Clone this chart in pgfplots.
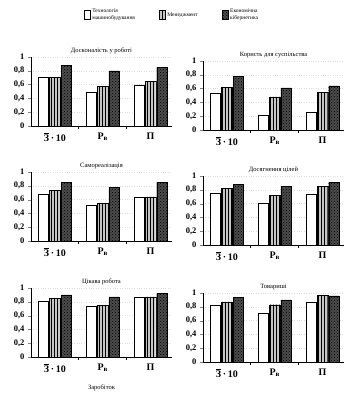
\documentclass[border=0pt]{standalone}
\usepackage{fontspec}
\setmainfont{Liberation Serif}
\usepackage{pgfplots}
\pgfplotsset{compat=1.18}
\usetikzlibrary{patterns}

\pgfplotsset{
 s1/.style={fill=white, draw=black},
 s2/.style={fill=gray!45, draw=black, postaction={pattern=vertical lines, pattern color=black}},
 s3/.style={fill=black!70, draw=black, postaction={pattern=crosshatch dots, pattern color=black}},
 panel/.style={
  scale only axis, width=141pt, height=69pt,
  anchor=south west,
  ymin=0, ymax=1, xmin=-0.5, xmax=2.45,
  axis lines*=left,
  axis line style={line width=0.8pt},
  ybar=1pt, bar width=10.5pt,
  xtick={0,1,2},
  xticklabels={{\(\overline{\hbox{З}}\)\,·\,10},{Р\textsubscript{в}},{П}},
  x tick label style={font=\fontsize{10}{12}\selectfont\bfseries},
  xtick style={draw=none},
  extra x ticks={0.5,1.5}, extra x tick labels={},
  extra x tick style={xtick style={draw=black, line width=1pt}, major tick length=3pt},
  ytick={0,0.2,0.4,0.6,0.8,1},
  y tick label style={font=\fontsize{8.5}{9}\selectfont\bfseries,
    /pgf/number format/fixed, /pgf/number format/use comma,
    /pgf/number format/assume math mode=true},
  tick align=outside, major tick length=3pt,
  ymajorgrids, grid style={gray!25, dotted},
  every axis title shift=0pt,
  title style={font=\fontsize{6.5}{7.5}\selectfont, at={(0.5,1)}, anchor=south, yshift=0pt},
  legend image code/.code={\draw[##1] (0pt,-4pt) rectangle (6pt,5pt);},
 },
}

\begin{document}
\begin{tikzpicture}
\useasboundingbox (0,0) rectangle (351pt,-395pt);

% Panel 1
\begin{axis}[panel, at={(31pt,-126pt)}, title={Досконалість у роботі},
  legend columns=3,
  legend cell align=left,
  legend style={at={(1.0,1.754)}, anchor=north, draw=none, fill=none,
    font=\fontsize{5.5}{6.5}\selectfont,
    /tikz/every even column/.append style={column sep=22pt}}]
\addplot[s1] coordinates {(0,0.70) (1,0.49) (2,0.59)};
\addplot[s2] coordinates {(0,0.70) (1,0.57) (2,0.65)};
\addplot[s3] coordinates {(0,0.88) (1,0.80) (2,0.85)};
\legend{{\shortstack[l]{Технологія\\машинобудування}},{Менеджмент},{\shortstack[l]{Економічна\\кібернетика}}}
\end{axis}

% Panel 2
\begin{axis}[panel, at={(203pt,-130pt)}, title={Користь для суспільства}]
\addplot[s1] coordinates {(0,0.53) (1,0.22) (2,0.26)};
\addplot[s2] coordinates {(0,0.62) (1,0.48) (2,0.55)};
\addplot[s3] coordinates {(0,0.78) (1,0.61) (2,0.64)};
\end{axis}

% Panel 3
\begin{axis}[panel, at={(31pt,-241pt)}, title={Самореалізація}]
\addplot[s1] coordinates {(0,0.68) (1,0.52) (2,0.63)};
\addplot[s2] coordinates {(0,0.73) (1,0.55) (2,0.64)};
\addplot[s3] coordinates {(0,0.85) (1,0.78) (2,0.85)};
\end{axis}

% Panel 4
\begin{axis}[panel, at={(203pt,-245pt)}, title={Досягнення цілей}]
\addplot[s1] coordinates {(0,0.75) (1,0.61) (2,0.73)};
\addplot[s2] coordinates {(0,0.82) (1,0.72) (2,0.85)};
\addplot[s3] coordinates {(0,0.88) (1,0.85) (2,0.91)};
\end{axis}

% Panel 5
\begin{axis}[panel, at={(31pt,-357pt)}, title={Цікава робота},
  xlabel={Заробіток}, xlabel style={font=\fontsize{6.5}{7.5}\selectfont}]
\addplot[s1] coordinates {(0,0.81) (1,0.73) (2,0.87)};
\addplot[s2] coordinates {(0,0.85) (1,0.75) (2,0.87)};
\addplot[s3] coordinates {(0,0.90) (1,0.87) (2,0.92)};
\end{axis}

% Panel 6
\begin{axis}[panel, at={(203pt,-362pt)}, title={Товариші}]
\addplot[s1] coordinates {(0,0.83) (1,0.71) (2,0.86)};
\addplot[s2] coordinates {(0,0.87) (1,0.83) (2,0.97)};
\addplot[s3] coordinates {(0,0.94) (1,0.90) (2,0.96)};
\end{axis}
\end{tikzpicture}
\end{document}
